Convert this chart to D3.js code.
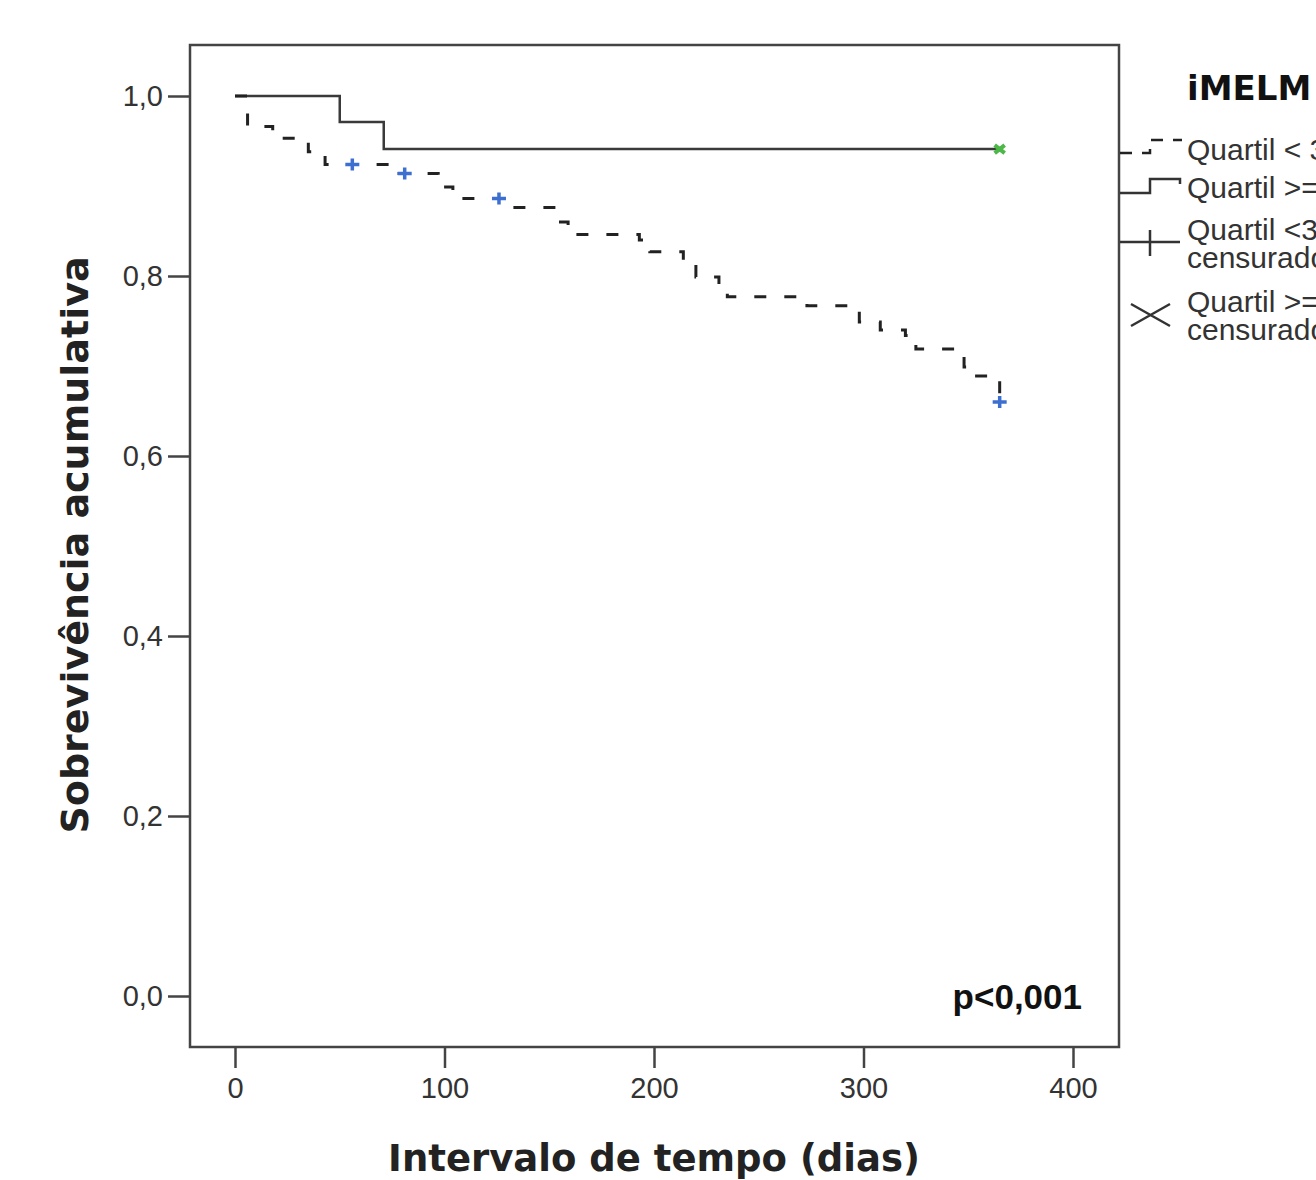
<!DOCTYPE html>
<html>
<head>
<meta charset="utf-8">
<script src="https://cdn.jsdelivr.net/npm/d3@7"></script>
<style>
  body { margin: 0; background: #fff; }
  svg { display: block; }
</style>
</head>
<body>
<div id="chart"></div>
<script>
// ---- data ----
// group "Quartil < 3" (dashed), step times in days and survival after each step
var lowTimes = [0, 6, 18, 35, 43, 76, 97, 104, 131, 153, 159, 193, 198, 214, 220, 231, 235, 273, 298, 308, 320, 325, 348, 353, 365];
var lowSurv = [1.0, 0.966, 0.953, 0.938, 0.924, 0.914, 0.899, 0.886, 0.876, 0.860, 0.846, 0.840, 0.827, 0.814, 0.799, 0.784, 0.777, 0.767, 0.749, 0.740, 0.734, 0.719, 0.699, 0.689, 0.660];
var lowCensored = [56, 81, 126, 365];

// group "Quartil >= 3" (solid)
var highTimes = [0, 50, 71];
var highSurv = [1.0, 0.971, 0.941];
var highCensored = [365];

var endTime = 365;

var xTicks = [0, 100, 200, 300, 400];
var yTicks = [0, 0.2, 0.4, 0.6, 0.8, 1.0];

var legendTitle = "iMELM";
var legendLabels = [["Quartil < 3"], ["Quartil >= 3"], ["Quartil <3 -", "censurado"], ["Quartil >=3 -", "censurado"]];

// ---- svg set-up ----
var svgWidth = 1316;
var svgHeight = 1180;

var box = { left: 190, top: 45, right: 1119, bottom: 1047 };

var svg = d3.select("#chart")
  .append("svg")
  .attr("width", svgWidth)
  .attr("height", svgHeight);

var x = d3.scaleLinear().domain([0, 400]).range([235, 1073]);
var y = d3.scaleLinear().domain([0, 1]).range([996, 96]);

var fmt = function(d) { return d3.format(".1f")(d).replace(".", ","); };

// plot frame
svg.append("rect")
  .attr("x", box.left)
  .attr("y", box.top)
  .attr("width", box.right - box.left)
  .attr("height", box.bottom - box.top)
  .attr("fill", "none")
  .attr("stroke", "#444")
  .attr("stroke-width", 2.5);

// ---- axes ----
var yAxis = svg.append("g")
  .attr("transform", "translate(" + box.left + ",0)")
  .call(d3.axisLeft(y).tickValues(yTicks).tickFormat(fmt).tickSize(22).tickSizeOuter(0).tickPadding(5));

var xAxis = svg.append("g")
  .attr("transform", "translate(0," + box.bottom + ")")
  .call(d3.axisBottom(x).tickValues(xTicks).tickSize(21).tickSizeOuter(0).tickPadding(9));

[xAxis, yAxis].forEach(function(g) {
  g.select(".domain").remove();
  g.selectAll(".tick line").attr("stroke", "#444").attr("stroke-width", 2.5);
  g.selectAll(".tick text")
    .attr("fill", "#333")
    .attr("font-family", "'Liberation Sans', Arial, sans-serif")
    .attr("font-size", "29px");
});

// axis titles
svg.append("text")
  .attr("transform", "translate(88,545) rotate(-90)")
  .attr("text-anchor", "middle")
  .attr("font-family", "'DejaVu Sans', Verdana, sans-serif")
  .attr("font-weight", "bold")
  .attr("font-size", "38px")
  .attr("fill", "#222")
  .text("Sobrevivência acumulativa");

svg.append("text")
  .attr("x", 654)
  .attr("y", 1171)
  .attr("text-anchor", "middle")
  .attr("font-family", "'DejaVu Sans', Verdana, sans-serif")
  .attr("font-weight", "bold")
  .attr("font-size", "37px")
  .attr("fill", "#222")
  .text("Intervalo de tempo (dias)");

svg.append("text")
  .attr("x", 1082)
  .attr("y", 1009)
  .attr("text-anchor", "end")
  .attr("font-family", "'Liberation Sans', Arial, sans-serif")
  .attr("font-weight", "bold")
  .attr("font-size", "35px")
  .attr("fill", "#111")
  .text("p<0,001");

// ---- survival curves ----
function stepPoints(times, surv) {
  var pts = times.map(function(t, i) { return [t, surv[i]]; });
  pts.push([endTime, surv[surv.length - 1]]);
  return pts;
}

function survAt(times, surv, t) {
  var s = surv[0];
  times.forEach(function(tt, i) { if (tt <= t) s = surv[i]; });
  return s;
}

var line = d3.line()
  .x(function(d) { return x(d[0]); })
  .y(function(d) { return y(d[1]); })
  .curve(d3.curveStepAfter);

svg.append("path")
  .datum(stepPoints(highTimes, highSurv))
  .attr("d", line)
  .attr("fill", "none")
  .attr("stroke", "#3a3a3a")
  .attr("stroke-width", 2.5);

svg.append("path")
  .datum(stepPoints(lowTimes, lowSurv))
  .attr("d", line)
  .attr("fill", "none")
  .attr("stroke", "#222")
  .attr("stroke-width", 3)
  .attr("stroke-dasharray", "12,18");

// censored marks: blue plus for the lower group
svg.selectAll(".cens-low")
  .data(lowCensored)
  .enter()
  .append("path")
  .attr("class", "cens-low")
  .attr("transform", function(d) { return "translate(" + x(d) + "," + y(survAt(lowTimes, lowSurv, d)) + ")"; })
  .attr("d", "M-7,0H7M0,-6V6")
  .attr("stroke", "#3c6fd0")
  .attr("stroke-width", 3.5)
  .attr("fill", "none");

// green x for the upper group
svg.selectAll(".cens-high")
  .data(highCensored)
  .enter()
  .append("path")
  .attr("class", "cens-high")
  .attr("transform", function(d) { return "translate(" + x(d) + "," + y(survAt(highTimes, highSurv, d)) + ")"; })
  .attr("d", "M-5,-4L5,4M-5,4L5,-4")
  .attr("stroke", "#4cb848")
  .attr("stroke-width", 4)
  .attr("fill", "none");

// ---- legend ----
var legend = svg.append("g");

legend.append("text")
  .attr("x", 1187)
  .attr("y", 100)
  .attr("font-family", "'DejaVu Sans', Verdana, sans-serif")
  .attr("font-weight", "bold")
  .attr("font-size", "34px")
  .attr("fill", "#111")
  .text(legendTitle);

// symbols
legend.append("path")
  .attr("d", "M1120,153H1150V140H1182")
  .attr("fill", "none")
  .attr("stroke", "#222")
  .attr("stroke-width", 2.5)
  .attr("stroke-dasharray", "12,10");

legend.append("path")
  .attr("d", "M1120,193H1150V179H1180V184")
  .attr("fill", "none")
  .attr("stroke", "#333")
  .attr("stroke-width", 2.5);

legend.append("path")
  .attr("d", "M1120,242H1180M1150,230V256")
  .attr("fill", "none")
  .attr("stroke", "#333")
  .attr("stroke-width", 2.5);

legend.append("path")
  .attr("d", "M1131,304L1170,326M1131,326L1170,304")
  .attr("fill", "none")
  .attr("stroke", "#333")
  .attr("stroke-width", 2.5);

var labelY = [[160], [198], [240, 268], [312, 340]];
legendLabels.forEach(function(lines, i) {
  lines.forEach(function(txt, j) {
    legend.append("text")
      .attr("x", 1187)
      .attr("y", labelY[i][j])
      .attr("font-family", "'Liberation Sans', Arial, sans-serif")
      .attr("font-size", "30px")
      .attr("fill", "#333")
      .text(txt);
  });
});
</script>
</body>
</html>
